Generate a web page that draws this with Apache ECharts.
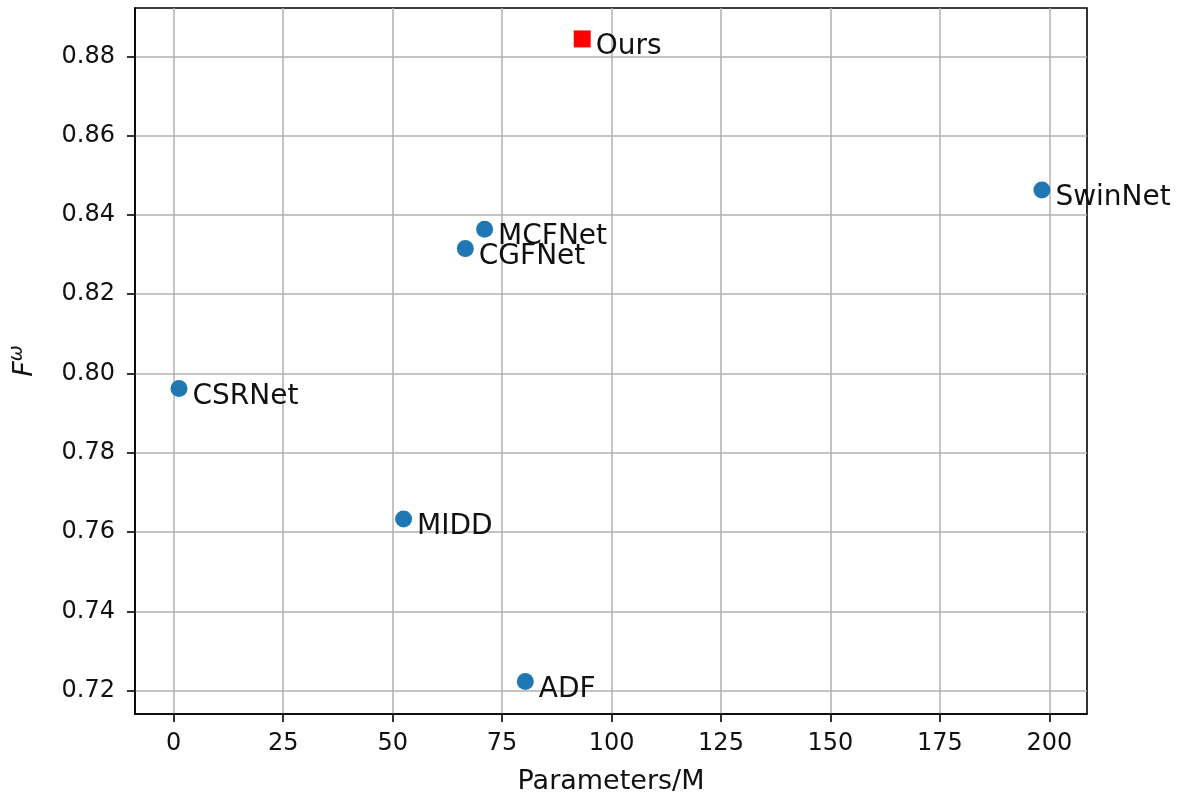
<!DOCTYPE html>
<html>
<head>
<meta charset="utf-8">
<script src="https://cdn.jsdelivr.net/npm/echarts@6/dist/echarts.min.js"></script>
<style>html,body{margin:0;padding:0;background:#fff}#c{width:1183px;height:800px}</style>
</head>
<body>
<div id="c"></div>
<script>
const otherNames = ['SwinNet', 'MCFNet', 'CGFNet', 'CSRNet', 'MIDD', 'ADF'];
const otherParams = [198.3, 71.0, 66.6, 1.2, 52.5, 80.3];
const otherFw = [0.8463, 0.8364, 0.8315, 0.7962, 0.7633, 0.7223];
const oursNames = ['Ours'];
const oursParams = [93.3];
const oursFw = [0.8844];
const xTicks = [0, 25, 50, 75, 100, 125, 150, 175, 200];
const yTicks = [0.72, 0.74, 0.76, 0.78, 0.80, 0.82, 0.84, 0.86, 0.88];

const FONT = 'DejaVu Sans';
const chart = echarts.init(document.getElementById('c'), null, {renderer: 'canvas'});

const labelCfg = {
  show: true, position: 'right', distance: 5, offset: [0, 8],
  formatter: '{b}', fontFamily: FONT, fontSize: 28, color: '#111'
};

chart.setOption({
  animation: false,
  backgroundColor: '#fff',
  grid: {left: 135, right: 96, top: 8, bottom: 82, show: true, borderColor: '#000', borderWidth: 1.6},
  xAxis: {
    type: 'value', min: -8.85, max: 208.6,
    name: 'Parameters/M', nameLocation: 'middle', nameGap: 54,
    nameTextStyle: {fontFamily: FONT, fontSize: 27, color: '#111'},
    axisLine: {show: true, onZero: false, lineStyle: {color: '#000', width: 1.6}},
    axisTick: {show: true, length: 8, lineStyle: {color: '#000', width: 1.6},
      customValues: xTicks},
    axisLabel: {fontFamily: FONT, fontSize: 24, color: '#111', margin: 18,
      customValues: xTicks, formatter: v => String(v)},
    splitLine: {show: true, lineStyle: {color: '#b0b0b0', width: 1.5}},
    interval: 25
  },
  yAxis: {
    type: 'value', min: 0.7141, max: 0.8922,
    name: '{f|F}{s|ω}', nameLocation: 'middle', nameGap: 94, nameRotate: 90,
    nameTextStyle: {
      rich: {
        f: {fontFamily: FONT, fontStyle: 'italic', fontSize: 27, color: '#111'},
        s: {fontFamily: FONT, fontStyle: 'italic', fontSize: 19, color: '#111', padding: [0, 0, 14, 0]}
      }
    },
    axisLine: {show: true, onZero: false, lineStyle: {color: '#000', width: 1.6}},
    axisTick: {show: true, length: 8, lineStyle: {color: '#000', width: 1.6}, customValues: yTicks},
    axisLabel: {fontFamily: FONT, fontSize: 24, color: '#111', margin: 20,
      customValues: yTicks, formatter: v => v.toFixed(2)},
    splitLine: {show: true, lineStyle: {color: '#b0b0b0', width: 1.5}}
  },
  series: [
    {
      type: 'scatter', symbol: 'circle', symbolSize: 17,
      itemStyle: {color: '#1f77b4', opacity: 1},
      label: labelCfg,
      data: otherNames.map((n, i) => ({name: n, value: [otherParams[i], otherFw[i]]}))
    },
    {
      type: 'scatter', symbol: 'rect', symbolSize: 17,
      itemStyle: {color: '#ff0000', opacity: 1},
      label: labelCfg,
      data: oursNames.map((n, i) => ({name: n, value: [oursParams[i], oursFw[i]]}))
    }
  ]
});
</script>
</body>
</html>
